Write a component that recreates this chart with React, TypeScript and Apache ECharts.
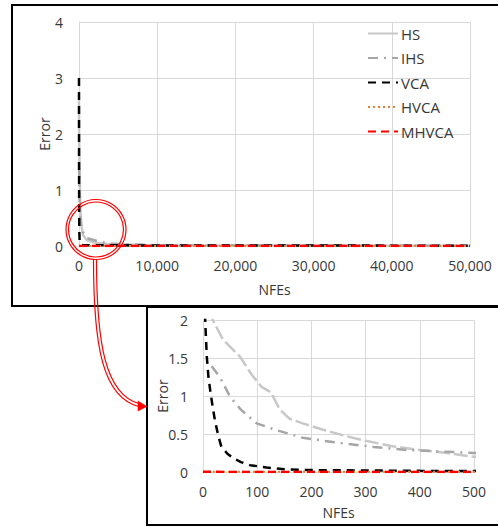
import React, { useEffect, useRef } from "react";
import * as echarts from "echarts";

// ---- data ----
const seriesNames = ["HS", "IHS", "VCA", "HVCA", "MHVCA"];

const nfeHS = [0, 18, 37, 68, 90, 108, 125, 142, 160, 184, 220, 260, 300, 350, 400, 450, 500, 1000, 2000, 4000, 10000, 50000];
const errHS = [2.6, 2.0, 1.74, 1.52, 1.28, 1.12, 1.05, 0.82, 0.7, 0.64, 0.56, 0.48, 0.41, 0.34, 0.29, 0.25, 0.2, 0.1, 0.06, 0.03, 0.01, 0.005];

const nfeIHS = [16, 31, 50, 70, 99, 136, 184, 254, 315, 376, 437, 500, 1000, 2500, 4000, 10000, 50000];
const errIHS = [1.39, 1.25, 0.99, 0.82, 0.64, 0.55, 0.45, 0.38, 0.33, 0.29, 0.27, 0.25, 0.14, 0.08, 0.04, 0.015, 0.005];

const nfeVCA = [0, 4, 7, 10, 14, 18, 22, 28, 34, 45, 56, 70, 87, 117, 150, 200, 300, 400, 500, 50000];
const errVCA = [3.0, 2.0, 1.52, 1.25, 1.04, 0.85, 0.68, 0.48, 0.33, 0.24, 0.18, 0.13, 0.09, 0.06, 0.035, 0.025, 0.02, 0.015, 0.012, 0.005];

const nfeHVCA = [0, 100, 500, 50000];
const errHVCA = [0.003, 0.002, 0.002, 0.001];

const nfeMHVCA = [0, 100, 500, 50000];
const errMHVCA = [0.002, 0.001, 0.001, 0.0005];

const topXTicks = [0, 10000, 20000, 30000, 40000, 50000];
const bottomXTicks = [0, 100, 200, 300, 400, 500];

const pairs = (xs: number[], ys: number[]) => xs.map((x, i) => [x, ys[i]]);

const FONT = "Open Sans";
const LABEL = "#383838";
const GRID = "#d9d9d9";

export default function App() {
  const ref = useRef<HTMLDivElement>(null);

  useEffect(() => {
    if (!ref.current) return;
    const chart = echarts.init(ref.current, undefined, { renderer: "svg" });

    const styles: any[] = [
      { color: "#c8c8c8", width: 2.5, type: "solid" },
      { color: "#a6a6a6", width: 2.5, type: [10, 6, 2, 6] },
      { color: "#000000", width: 2.5, type: [8, 6] },
      { color: "#ed7d31", width: 2, type: [2, 3] },
      { color: "#ff0000", width: 2.5, type: [8, 5] },
    ];
    const bottomStyles: any[] = [
      { ...styles[0], type: [14, 4] },
      styles[1],
      styles[2],
      styles[3],
      styles[4],
    ];
    const datas = [
      pairs(nfeHS, errHS),
      pairs(nfeIHS, errIHS),
      pairs(nfeVCA, errVCA),
      pairs(nfeHVCA, errHVCA),
      pairs(nfeMHVCA, errMHVCA),
    ];

    const mkSeries = (gi: number, st: any[]) =>
      seriesNames.map((name, i) => ({
        name,
        type: "line",
        xAxisIndex: gi,
        yAxisIndex: gi,
        data: datas[i],
        showSymbol: false,
        symbol: "none",
        smooth: false,
        clip: true,
        lineStyle: st[i],
        itemStyle: { color: st[i].color },
        z: 2 + (i === 4 ? 2 : i === 3 ? 1 : 0),
      }));

    const axisCommon = {
      axisTick: { show: false },
      axisLine: { show: true, lineStyle: { color: GRID, width: 1 } },
      splitLine: { show: true, lineStyle: { color: GRID, width: 1 } },
      nameMoveOverlap: false,
      nameTextStyle: { color: LABEL, fontSize: 14, fontFamily: FONT },
    };

    chart.setOption({
      animation: false,
      textStyle: { fontFamily: FONT },
      grid: [
        { left: 79, top: 22, width: 391, height: 224 },
        { left: 203, top: 320, width: 271, height: 152 },
      ],
      legend: {
        data: seriesNames,
        orient: "vertical",
        left: 362,
        top: 21,
        itemWidth: 30,
        itemHeight: 14,
        itemGap: 9.5,
        itemStyle: { color: "transparent", borderWidth: 0, opacity: 0 },
        textStyle: { color: LABEL, fontSize: 15, fontFamily: FONT, padding: [0, 0, 0, -2] },
        selectedMode: false,
      },
      xAxis: [
        {
          ...axisCommon,
          type: "value",
          gridIndex: 0,
          min: topXTicks[0],
          max: topXTicks[topXTicks.length - 1],
          interval: topXTicks[1] - topXTicks[0],
          name: "NFEs",
          nameLocation: "middle",
          nameGap: 36,
          axisLabel: {
            color: LABEL,
            fontSize: 14,
            fontFamily: FONT,
            margin: 12,
            formatter: (v: number) => v.toLocaleString("en-US"),
          },
        },
        {
          ...axisCommon,
          type: "value",
          gridIndex: 1,
          min: bottomXTicks[0],
          max: bottomXTicks[bottomXTicks.length - 1],
          interval: bottomXTicks[1] - bottomXTicks[0],
          name: "NFEs",
          nameLocation: "middle",
          nameGap: 33,
          axisLabel: { color: LABEL, fontSize: 14, fontFamily: FONT, margin: 12 },
        },
      ],
      yAxis: [
        {
          ...axisCommon,
          type: "value",
          gridIndex: 0,
          min: 0,
          max: 4,
          interval: 1,
          name: "Error",
          nameLocation: "middle",
          nameGap: 28,
          axisLabel: { color: LABEL, fontSize: 14, fontFamily: FONT, margin: 16 },
        },
        {
          ...axisCommon,
          type: "value",
          gridIndex: 1,
          min: 0,
          max: 2,
          interval: 0.5,
          name: "Error",
          nameLocation: "middle",
          nameGap: 34,
          axisLabel: { color: LABEL, fontSize: 14, fontFamily: FONT, margin: 15 },
        },
      ],
      series: [...mkSeries(0, styles), ...mkSeries(1, bottomStyles)],
      graphic: [
        {
          type: "rect",
          z: 100,
          shape: { x: 12, y: 5, width: 520, height: 301 },
          style: { fill: "none", stroke: "#000", lineWidth: 2 },
          silent: true,
        },
        {
          type: "rect",
          z: 101,
          shape: { x: 147, y: 307, width: 400, height: 218 },
          style: { fill: "none", stroke: "#000", lineWidth: 2 },
          silent: true,
        },
        {
          type: "circle",
          z: 110,
          shape: { cx: 96, cy: 229.5, r: 30 },
          style: { fill: "none", stroke: "#ff0000", lineWidth: 1.2 },
        },
        {
          type: "circle",
          z: 110,
          shape: { cx: 96, cy: 229.5, r: 27.5 },
          style: { fill: "none", stroke: "#ff0000", lineWidth: 1.2 },
        },
        {
          type: "bezierCurve",
          z: 110,
          shape: { x1: 93.5, y1: 259, cpx1: 93.5, cpy1: 345, cpx2: 102, cpy2: 398, x2: 140, y2: 407 },
          style: { fill: "none", stroke: "#ff0000", lineWidth: 1.2 },
        },
        {
          type: "bezierCurve",
          z: 110,
          shape: { x1: 96.5, y1: 259, cpx1: 96.5, cpy1: 343, cpx2: 105, cpy2: 395, x2: 140, y2: 404 },
          style: { fill: "none", stroke: "#ff0000", lineWidth: 1.2 },
        },
        {
          type: "polygon",
          z: 111,
          shape: { points: [[147, 406.5], [138, 401], [138, 411]] },
          style: { fill: "#ff0000", stroke: "#ff0000", lineWidth: 0.5 },
        },
      ],
    });

    return () => chart.dispose();
  }, []);

  return (
    <div
      ref={ref}
      style={{ position: "fixed", left: 0, top: 0, width: 498, height: 527, background: "#fff" }}
    />
  );
}
